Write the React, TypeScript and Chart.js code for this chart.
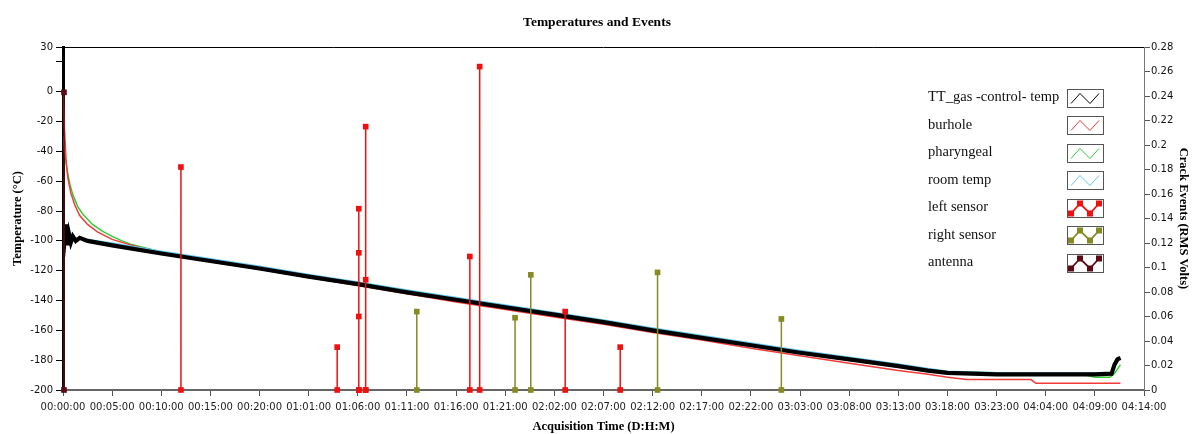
import { useEffect, useRef } from "react";
import { Chart, registerables } from "chart.js";

Chart.register(...registerables);

// ---------- data ----------
const xTickLabels = [
  "00:00:00", "00:05:00", "00:10:00", "00:15:00", "00:20:00", "01:01:00",
  "01:06:00", "01:11:00", "01:16:00", "01:21:00", "02:02:00", "02:07:00",
  "02:12:00", "02:17:00", "02:22:00", "03:03:00", "03:08:00", "03:13:00",
  "03:18:00", "03:23:00", "04:04:00", "04:09:00", "04:14:00",
];

const tempTicks = [-200, -180, -160, -140, -120, -100, -80, -60, -40, -20, 0, 20, 30];

const seriesNames = [
  "TT_gas -control- temp",
  "burhole",
  "pharyngeal",
  "room temp",
  "left sensor",
  "right sensor",
  "antenna",
];

const seriesColors = ["#000000", "#f23a3a", "#33cc33", "#63c6ee", "#ee1111", "#858a22", "#5c0a12"];

// TT_gas -control- temp (°C)
const gasTime = [0, 0.15, 0.3, 0.45, 0.6, 0.8, 1.0, 1.3, 1.7, 2.5, 5, 10, 15, 20, 25, 30, 35, 40, 45, 50, 55, 60, 65, 70, 75, 80, 85, 88, 90, 95, 100, 105, 106.7, 107.0, 107.3, 107.6];
const gasTemp = [-94, -100, -89, -103, -95, -101, -97, -100, -98, -100, -103, -108.5, -113.5, -118.5, -124, -129, -134.5, -139.5, -144.5, -149.5, -154.5, -160, -165, -170, -175, -179.5, -184, -187, -188.5, -189.5, -189.5, -189.5, -189, -183, -179.5, -178.5];

// burhole (°C)
const burholeTime = [0, 0.15, 0.3, 0.5, 0.8, 1.2, 1.7, 2.5, 3.5, 5, 7, 10, 15, 20, 25, 30, 35, 40, 45, 50, 55, 60, 65, 70, 75, 80, 85, 88, 90, 92, 98.5, 99, 107.6];
const burholeTemp = [0, -25, -45, -58, -68, -76, -83, -89, -94, -99, -103, -108.5, -114, -119, -124.5, -130, -135.5, -141, -146, -151, -156, -161.5, -166.5, -172, -177, -182, -187, -189.5, -191.5, -193, -193, -195.5, -195.5];

// pharyngeal (°C)
const pharynTime = [0, 0.2, 0.4, 0.7, 1, 1.5, 2, 3, 4, 5, 6, 7, 10, 15, 20, 25, 30, 35, 40, 45, 50, 55, 60, 65, 70, 75, 80, 85, 90, 95, 100, 104, 105, 106.5, 107, 107.6];
const pharynTemp = [-30, -42, -52, -62, -69, -77, -82, -89, -93.5, -97, -100, -102.5, -107.5, -113.5, -119, -124.5, -129.5, -135, -140, -145, -150, -155, -160.5, -165.5, -170.5, -175.5, -180, -184.5, -188, -188.5, -189.5, -190, -191.5, -191.5, -189, -183];

// room temp (°C)
const roomTime = [0, 0.5, 1, 2.5, 5, 10, 15, 20, 25, 30, 35, 40, 45, 50, 55, 60, 65, 70, 75, 80, 85, 88, 90, 95, 100, 105, 106.7, 107.0, 107.3, 107.6];
const roomTemp = [-96, -97, -98, -99, -101.5, -107, -112, -117, -122.5, -127.5, -133, -138, -143, -148, -153, -158.5, -163.5, -168.5, -173.5, -178, -182.5, -185.5, -187.5, -188.5, -188.5, -188.5, -188.5, -182.5, -179, -178];

// crack events (RMS Volts)
const leftSensorTime = [12.0, 27.9, 30.1, 30.1, 30.1, 30.8, 30.8, 41.4, 42.4, 51.1, 56.7];
const leftSensorValue = [0.182, 0.035, 0.148, 0.112, 0.06, 0.215, 0.09, 0.109, 0.264, 0.064, 0.035];

const rightSensorTime = [36.0, 46.0, 47.6, 60.5, 73.1];
const rightSensorValue = [0.064, 0.059, 0.094, 0.096, 0.058];

const antennaTime = [0.1];
const antennaValue = [0.243];

// ---------- helpers ----------
const toPoints = (xs: number[], ys: number[]) => xs.map((x, i) => ({ x, y: ys[i] }));
const toStems = (xs: number[], ys: number[]) =>
  xs.flatMap((x, i) => [
    { x, y: 0 },
    { x, y: ys[i] },
    { x, y: null as any },
  ]);

const tickFont = { family: "'DejaVu Sans', sans-serif", size: 10 };
const titleFont = { family: "'Liberation Serif', serif", size: 12.5, weight: "bold" as const };

const frameAndLegend = {
  id: "frameAndLegend",
  beforeDatasetsDraw(chart: any) {
    const { ctx, chartArea } = chart;
    ctx.save();
    ctx.strokeStyle = "#000";
    ctx.lineWidth = 1;
    ctx.beginPath();
    ctx.moveTo(chartArea.left, chartArea.top + 0.5);
    ctx.lineTo(chartArea.right, chartArea.top + 0.5);
    ctx.stroke();
    ctx.restore();
  },
  afterDraw(chart: any) {
    const { ctx, chartArea } = chart;
    const textX = chartArea.right - 216;
    const boxX = chartArea.right - 77;
    const y0 = chartArea.top + 50.5;
    const dy = 27.5;
    ctx.save();
    ctx.font = "14.5px 'Liberation Serif', serif";
    ctx.textBaseline = "middle";
    ctx.textAlign = "left";
    seriesNames.forEach((name, i) => {
      const y = y0 + i * dy;
      ctx.fillStyle = "#111";
      ctx.fillText(name, textX, y);
      const bx = boxX, by = Math.round(y - 9) + 0.5;
      ctx.fillStyle = "#fff";
      ctx.fillRect(bx, by, 36, 18);
      ctx.strokeStyle = "#555";
      ctx.lineWidth = 1;
      ctx.strokeRect(bx + 0.5, by, 36, 18);
      const pts = [
        [bx + 4, by + 14],
        [bx + 13, by + 4],
        [bx + 23, by + 14],
        [bx + 32, by + 4],
      ];
      ctx.strokeStyle = seriesColors[i];
      ctx.lineWidth = i >= 4 ? 1.8 : 1;
      ctx.beginPath();
      pts.forEach((p, k) => (k === 0 ? ctx.moveTo(p[0], p[1]) : ctx.lineTo(p[0], p[1])));
      ctx.stroke();
      if (i >= 4) {
        ctx.fillStyle = seriesColors[i];
        pts.forEach((p) => ctx.fillRect(p[0] - 3, p[1] - 3, 6, 6));
      }
    });
    ctx.restore();
  },
};

export default function App() {
  const ref = useRef<HTMLCanvasElement | null>(null);

  useEffect(() => {
    document.body.style.margin = "0";
    if (!ref.current) return;
    const lineDs = (label: string, data: any[], color: string, width: number) => ({
      type: "line" as const,
      label,
      data,
      borderColor: color,
      backgroundColor: color,
      borderWidth: width,
      pointRadius: 0,
      tension: 0,
      yAxisID: "yT",
    });
    const stemDs = (label: string, data: any[], color: string) => ({
      type: "line" as const,
      label,
      data,
      borderColor: color,
      backgroundColor: color,
      borderWidth: 1.5,
      pointStyle: "rect",
      pointRadius: 4,
      pointBorderWidth: 0,
      spanGaps: false,
      clip: false as any,
      yAxisID: "yE",
    });

    const chart = new Chart(ref.current, {
      type: "line",
      data: {
        datasets: [
          stemDs(seriesNames[4], toStems(leftSensorTime, leftSensorValue), seriesColors[4]),
          stemDs(seriesNames[5], toStems(rightSensorTime, rightSensorValue), seriesColors[5]),
          stemDs(seriesNames[6], toStems(antennaTime, antennaValue), seriesColors[6]),
          lineDs(seriesNames[0], toPoints(gasTime, gasTemp), seriesColors[0], 4.2),
          lineDs(seriesNames[3], toPoints(roomTime, roomTemp), seriesColors[3], 1.5),
          lineDs(seriesNames[1], toPoints(burholeTime, burholeTemp), seriesColors[1], 1.5),
          lineDs(seriesNames[2], toPoints(pharynTime, pharynTemp), seriesColors[2], 1.5),
        ] as any,
      },
      options: {
        responsive: false,
        animation: false,
        devicePixelRatio: 1,
        layout: { padding: 0 },
        plugins: {
          legend: { display: false },
          tooltip: { enabled: false },
          title: {
            display: true,
            text: "Temperatures and Events",
            color: "#000",
            font: { family: "'Liberation Serif', serif", size: 13.5, weight: "bold" },
            padding: { top: 14, bottom: 16.8 },
          },
        },
        scales: {
          x: {
            type: "linear",
            min: 0,
            max: 110,
            afterFit: (s: any) => {
              s.height = 44;
            },
            ticks: {
              stepSize: 5,
              autoSkip: false,
              maxRotation: 0,
              padding: 5,
              color: "#222",
              font: tickFont,
              callback: (v: any) => xTickLabels[Math.round(Number(v) / 5)] ?? "",
            },
            grid: { drawOnChartArea: false, tickLength: 6, tickColor: "#555" },
            border: { display: true, color: "#666", width: 2 },
            title: {
              display: true,
              text: "Acquisition Time (D:H:M)",
              color: "#000",
              font: titleFont,
              padding: { top: 0, bottom: 0 },
            },
          },
          yT: {
            type: "linear",
            position: "left",
            min: -200,
            max: 30,
            afterFit: (s: any) => {
              s.width = 63;
            },
            afterBuildTicks: (s: any) => {
              s.ticks = tempTicks.map((value) => ({ value }));
            },
            ticks: {
              autoSkip: false,
              padding: 3,
              color: "#111",
              font: tickFont,
              callback: (v: any) => (Number(v) === 20 ? "" : String(v)),
            },
            grid: { drawOnChartArea: false, tickLength: 7, tickColor: "#000" },
            border: { display: true, color: "#000", width: 3 },
            title: {
              display: true,
              text: "Temperature (°C)",
              color: "#000",
              font: titleFont,
              padding: { top: 10, bottom: 0 },
            },
          },
          yE: {
            type: "linear",
            position: "right",
            min: 0,
            max: 0.28,
            afterFit: (s: any) => {
              s.width = 50;
            },
            ticks: {
              stepSize: 0.02,
              autoSkip: false,
              padding: 1,
              color: "#111",
              font: tickFont,
              callback: (v: any) => String(parseFloat(Number(v).toFixed(2))),
            },
            grid: { drawOnChartArea: false, tickLength: 6, tickColor: "#555" },
            border: { display: true, color: "#777", width: 1 },
            title: {
              display: true,
              text: "Crack Events (RMS Volts)",
              color: "#000",
              font: titleFont,
              padding: { top: 3, bottom: 0 },
            },
          },
        },
      } as any,
      plugins: [frameAndLegend],
    });
    return () => chart.destroy();
  }, []);

  return (
    <div style={{ position: "absolute", left: 0, top: 0, width: 1194, height: 434, background: "#fff" }}>
      <canvas ref={ref} width={1194} height={434} />
    </div>
  );
}
